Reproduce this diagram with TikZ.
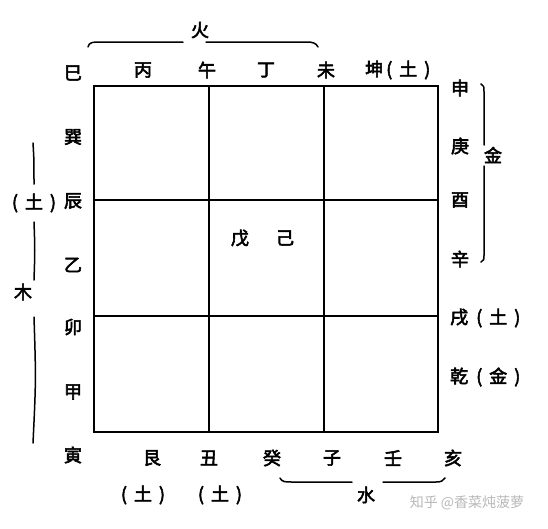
\documentclass[tikz,border=0pt]{standalone}
\usepackage{fontspec}
\newfontfamily\cjk[FakeBold=3]{Noto Sans CJK SC}
\newfontfamily\cjkwm{Noto Sans CJK SC}
\newcommand\pz[1]{(\hspace{7pt}#1\hspace{7pt})}
\begin{document}
\begin{tikzpicture}[x=1pt,y=-1pt,
  lab/.style={font=\cjk\fontsize{18}{18}\selectfont, inner sep=0pt},
  wm/.style={font=\cjkwm\fontsize{14}{14}\selectfont, inner sep=0pt, text=black!28},
  gridline/.style={line width=2pt},
  brk/.style={line width=1.5pt, line cap=round}]
\useasboundingbox[fill=white] (0,0) rectangle (548,528);
% grid
\coordinate (tl) at (94,86);
\coordinate (br) at (438,432);
\draw[gridline] (tl) rectangle (br);
\draw[gridline] (209,86) -- (209,432);
\draw[gridline] (324,86) -- (324,432);
\draw[gridline] (94,200) -- (438,200);
\draw[gridline] (94,316) -- (438,316);
% top row
\node[lab] (si) at (73,73) {巳};
\node[lab] (bing) at (143,70) {丙};
\node[lab] (wu) at (207,70) {午};
\node[lab] (ding) at (266,70) {丁};
\node[lab] (wei) at (326,70) {未};
\node[lab,anchor=west] (kun) at (365,70) {坤\hspace{3pt}\pz{土}};
% fire brace
\node[lab] (huo) at (200,30) {火};
\draw[brk] (88,47) .. controls (89,42) and (93,42) .. (100,42) -- (183,42);
\draw[brk] (206,42) -- (306,42) .. controls (313,42) and (316,43) .. (318,47);
% right column
\node[lab] (shen) at (460,88) {申};
\node[lab] (geng) at (460,146) {庚};
\node[lab] (you) at (460,200) {酉};
\node[lab] (xin) at (460,259) {辛};
\node[lab,anchor=west] (xu) at (450,318) {戌\hspace{8pt}\pz{土}};
\node[lab,anchor=west] (qian) at (450,377) {乾\hspace{8pt}\pz{金}};
% metal bracket
\node[lab] (jin) at (493,155) {金};
\draw[brk] (481,84) .. controls (484,86) .. (484,92) -- (484,145);
\draw[brk] (484,166) -- (484,255) .. controls (484,260) .. (481,262);
% left column
\node[lab] (xun) at (73,137) {巽};
\node[lab] (chen) at (73,201) {辰};
\node[lab] (yi) at (73,265) {乙};
\node[lab] (mao) at (73,327) {卯};
\node[lab] (jia) at (73,392) {甲};
\node[lab] (yin) at (73,455) {寅};
% wood bracket
\node[lab] (tuL) at (34,203) {\pz{土}};
\node[lab] (mu) at (23,292) {木};
\draw[brk] (33,143) .. controls (34,160) .. (34,184);
\draw[brk] (34,222) .. controls (35,250) .. (34,280);
\draw[brk] (34,317) .. controls (36,380) .. (33,443);
% bottom row
\node[lab] (gen) at (152,458) {艮};
\node[lab] (chou) at (209,458) {丑};
\node[lab] (gui) at (272,458) {癸};
\node[lab] (zi) at (332,458) {子};
\node[lab] (ren) at (393,458) {壬};
\node[lab] (hai) at (453,458) {亥};
\node[lab] (tuA) at (143,495) {\pz{土}};
\node[lab] (tuB) at (220,495) {\pz{土}};
% water brace
\node[lab] (shui) at (366,495) {水};
\draw[brk] (280,478) .. controls (282,482) and (285,482) .. (292,482) -- (352,482);
\draw[brk] (383,482) -- (436,482) .. controls (441,482) and (443,481) .. (445,478);
% centre
\node[lab] (wuC) at (240,238) {戊};
\node[lab] (ji) at (285,238) {己};
% watermark
\node[wm] (mark) at (467,503) {知乎 @香菜炖菠萝};
\end{tikzpicture}
\end{document}
